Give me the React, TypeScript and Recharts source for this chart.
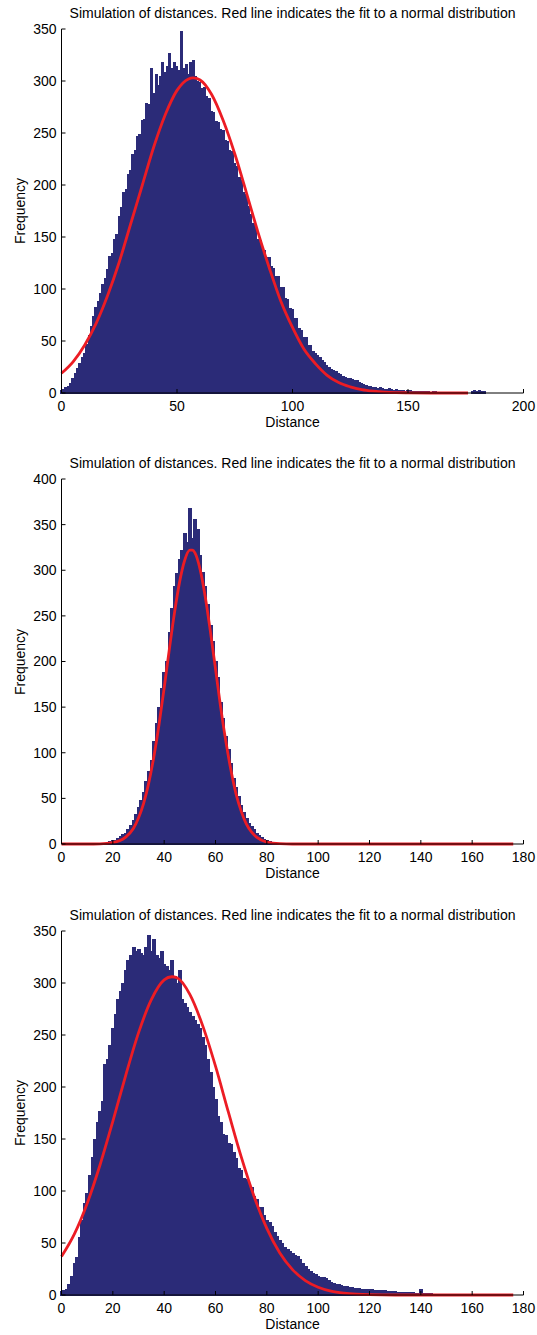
import React from "react";
import { ComposedChart, Bar, Line, XAxis, YAxis } from "recharts";

const TITLE = "Simulation of distances. Red line indicates the fit to a normal distribution";
const X_LABEL = "Distance";
const Y_LABEL = "Frequency";

// ---------- Chart 1 ----------
const topStart = 0;
const topCounts = [
  2, 3, 5, 6, 9, 14, 19, 24, 28, 34,
  38, 47, 55, 64, 74, 82, 88, 96, 104, 110,
  119, 131, 134, 148, 152, 170, 178, 193, 196, 210,
  214, 229, 233, 247, 249, 262, 263, 278, 277, 312,
  288, 306, 296, 304, 318, 308, 314, 326, 312, 318,
  314, 310, 348, 312, 316, 306, 318, 320, 304, 300,
  299, 293, 294, 285, 283, 271, 270, 261, 260, 253,
  252, 243, 242, 233, 232, 221, 218, 207, 204, 193,
  191, 179, 172, 163, 160, 148, 147, 138, 137, 130,
  130, 122, 120, 112, 112, 101, 101, 91, 90, 81,
  80, 72, 72, 62, 60, 53, 53, 46, 46, 40,
  38, 36, 34, 31, 29, 26, 25, 23, 22, 21,
  19, 18, 16, 15, 14, 14, 13, 12, 12, 10,
  9, 8, 7, 6, 6, 5, 5, 4, 5, 4,
  3, 3, 4, 3, 2, 3, 2, 2, 2, 1,
  2, 2, 1, 1, 1, 1, 1, 1, 1, 1,
  0, 1, 1, 0, 0, 0, 0, 0, 0, 0,
  0, 0, 0, 0, 0, 0, 0, 0, 1, 2,
  1, 2, 1, 1, 0, 0, 0, 0, 0, 0,
  0, 0, 0, 0, 0, 0, 0, 0, 0, 0,
];
const topFitX = [0, 5, 10, 15, 20, 25, 30, 35, 40, 45, 50, 55, 57, 60, 65, 70, 75, 80, 85, 90, 95, 100, 105, 110, 115, 120, 125, 130, 135, 140, 145, 150, 160, 176];
const topFitY = [19, 30, 46, 67, 94, 126, 163, 200, 237, 268, 291, 302, 303, 301, 287, 262, 230, 193, 155, 120, 88, 63, 42, 28, 17, 10, 5.9, 3.2, 1.7, 0.8, 0.4, 0.2, 0, 0];
const topXTicks = [0, 50, 100, 150, 200];
const topYTicks = [0, 50, 100, 150, 200, 250, 300, 350];

// ---------- Chart 2 ----------
const midStart = 15;
const midCounts = [
  1, 1, 1, 2, 3, 4, 4, 6, 8, 10,
  12, 16, 20, 26, 32, 40, 48, 56, 68, 80,
  92, 112, 132, 150, 170, 188, 200, 232, 258, 282,
  296, 312, 322, 340, 330, 368, 335, 356, 345, 316,
  298, 282, 262, 240, 222, 200, 182, 155, 138, 118,
  104, 88, 72, 62, 52, 42, 35, 28, 22, 19,
  16, 12, 9, 7, 5, 4, 3, 2, 1, 1,
  1, 0.5,
];
const midFitX = [0, 10, 15, 20, 25, 28, 30, 32, 34, 36, 38, 40, 42, 44, 46, 48, 50, 51, 52, 54, 56, 58, 60, 62, 64, 66, 68, 70, 72, 74, 76, 80, 85, 90, 100, 120, 140, 160, 176];
const midFitY = [0, 0, 0.2, 1.5, 7.5, 17, 28.5, 44.6, 67, 96, 131, 171, 213, 253, 287, 311, 322, 322, 319, 301, 271, 233, 192, 150, 113, 81, 55, 36, 22, 13.2, 7.5, 2.1, 0.3, 0, 0, 0, 0, 0, 0];
const midXTicks = [0, 20, 40, 60, 80, 100, 120, 140, 160, 180];
const midYTicks = [0, 50, 100, 150, 200, 250, 300, 350, 400];

// ---------- Chart 3 ----------
const botStart = 0;
const botCounts = [
  3, 4, 5, 10, 18, 30, 36, 55, 72, 88,
  98, 115, 132, 150, 166, 176, 186, 222, 226, 240,
  256, 270, 284, 292, 300, 312, 322, 326, 334, 330,
  332, 328, 326, 334, 346, 330, 342, 326, 324, 330,
  318, 316, 312, 322, 306, 300, 312, 284, 280, 276,
  272, 268, 264, 260, 256, 248, 240, 226, 214, 200,
  188, 172, 166, 154, 153, 146, 145, 137, 131, 122,
  120, 112, 111, 104, 103, 95, 92, 84, 84, 76,
  72, 70, 66, 60, 56, 52, 50, 46, 44, 42,
  40, 38, 37, 34, 30, 27, 25, 23, 21, 20,
  18, 17, 17, 16, 14, 12, 11, 10, 10, 9,
  8, 8, 7, 7, 6, 6, 6, 5, 5, 5,
  5, 5, 4, 4, 4, 4, 4, 3, 3, 3,
  3, 2, 2, 2, 2, 2, 2, 2, 1, 1,
  5, 1, 1, 1, 1,
];
const botFitX = [0, 5, 10, 15, 20, 25, 30, 35, 40, 43, 45, 50, 55, 60, 65, 70, 75, 80, 85, 90, 95, 100, 105, 110, 115, 120, 130, 140, 160, 176];
const botFitY = [37, 58.5, 88, 125, 167, 211, 252, 284, 303, 306, 305, 289, 259, 220, 176, 133, 95, 64, 40.6, 24.4, 13.8, 7.4, 3.7, 1.8, 0.8, 0.3, 0, 0, 0, 0];
const botXTicks = midXTicks;
const botYTicks = topYTicks;

type Row = { x: number; count: number; fit?: number };

function buildRows(maxX: number, start: number, counts: number[], fitX: number[], fitY: number[]): Row[] {
  const rows: Row[] = [];
  for (let x = 0; x <= maxX; x++) {
    const i = x - start;
    const row: Row = { x, count: i >= 0 && i < counts.length ? counts[i] : 0 };
    const k = fitX.indexOf(x);
    if (k >= 0) row.fit = fitY[k];
    rows.push(row);
  }
  return rows;
}

const FONT = "'Liberation Sans', Arial, Helvetica, sans-serif";
const BAR = "#2b2b78";
const RED = "#ec1c24";
const tickStyle = { fontSize: 14, fill: "#000", fontFamily: FONT };

type HistProps = {
  top: number;
  rows: Row[];
  xMax: number;
  xTicks: number[];
  yMax: number;
  yTicks: number[];
  marginBottom: number;
};

function Hist({ top, rows, xMax, xTicks, yMax, yTicks, marginBottom }: HistProps) {
  const H = 440;
  const plotTop = 29;
  const plotBottom = H - marginBottom - 30;
  const txt: React.CSSProperties = {
    position: "absolute",
    fontFamily: FONT,
    fontSize: 14,
    lineHeight: "14px",
    color: "#000",
    whiteSpace: "nowrap",
    textAlign: "center",
  };
  return (
    <div style={{ position: "absolute", left: 0, top, width: 537, height: H }}>
      <ComposedChart
        width={537}
        height={H}
        data={rows}
        margin={{ top: plotTop, right: 13.5, bottom: marginBottom, left: 11.5 }}
        barCategoryGap={0}
        barGap={0}
      >
        <XAxis
          xAxisId="b"
          dataKey="x"
          type="number"
          domain={[0, xMax]}
          ticks={xTicks}
          interval={0}
          orientation="bottom"
          height={30}
          tickSize={-4}
          tickMargin={12}
          axisLine={{ stroke: "#000" }}
          tickLine={{ stroke: "#000" }}
          tick={tickStyle}
        />
        <XAxis
          xAxisId="t"
          dataKey="x"
          type="number"
          domain={[0, xMax]}
          ticks={xTicks}
          interval={0}
          orientation="top"
          height={0}
          tickSize={-4}
          tickFormatter={() => ""}
          axisLine={{ stroke: "#000" }}
          tickLine={{ stroke: "#000" }}
        />
        <YAxis
          yAxisId="l"
          type="number"
          domain={[0, yMax]}
          ticks={yTicks}
          interval={0}
          width={50}
          tickSize={-4}
          tickMargin={9}
          axisLine={{ stroke: "#000" }}
          tickLine={{ stroke: "#000" }}
          tick={tickStyle}
        />
        <YAxis
          yAxisId="r"
          orientation="right"
          type="number"
          domain={[0, yMax]}
          ticks={yTicks}
          interval={0}
          width={0}
          tickSize={-4}
          tickFormatter={() => ""}
          axisLine={{ stroke: "#000" }}
          tickLine={{ stroke: "#000" }}
        />
        <Bar
          xAxisId="b"
          yAxisId="l"
          dataKey="count"
          fill={BAR}
          stroke={BAR}
          strokeWidth={1}
          shapeRendering="crispEdges"
          isAnimationActive={false}
        />
        <Line
          xAxisId="b"
          yAxisId="l"
          dataKey="fit"
          type="monotone"
          stroke={RED}
          strokeWidth={2.8}
          dot={false}
          activeDot={false}
          connectNulls
          isAnimationActive={false}
        />
      </ComposedChart>
      <div style={{ ...txt, left: 61.5, width: 462, top: plotTop - 23 }}>{TITLE}</div>
      <div style={{ ...txt, left: 61.5, width: 462, top: plotBottom + 22 }}>{X_LABEL}</div>
      <div
        style={{
          ...txt,
          left: 19.5 - 50,
          width: 100,
          top: (plotTop + plotBottom) / 2 - 7,
          height: 14,
          transform: "rotate(-90deg)",
          transformOrigin: "50% 50%",
        }}
      >
        {Y_LABEL}
      </div>
    </div>
  );
}

export default function App() {
  const topRows = buildRows(199, topStart, topCounts, topFitX, topFitY);
  const midRows = buildRows(179, midStart, midCounts, midFitX, midFitY);
  const botRows = buildRows(179, botStart, botCounts, botFitX, botFitY);
  return (
    <div style={{ position: "absolute", left: 0, top: 0, width: 537, height: 1335, background: "#fff" }}>
      <Hist top={0} rows={topRows} xMax={200} xTicks={topXTicks} yMax={350} yTicks={topYTicks} marginBottom={17} />
      <Hist top={450} rows={midRows} xMax={180} xTicks={midXTicks} yMax={400} yTicks={midYTicks} marginBottom={16} />
      <Hist top={902} rows={botRows} xMax={180} xTicks={botXTicks} yMax={350} yTicks={botYTicks} marginBottom={17} />
    </div>
  );
}
